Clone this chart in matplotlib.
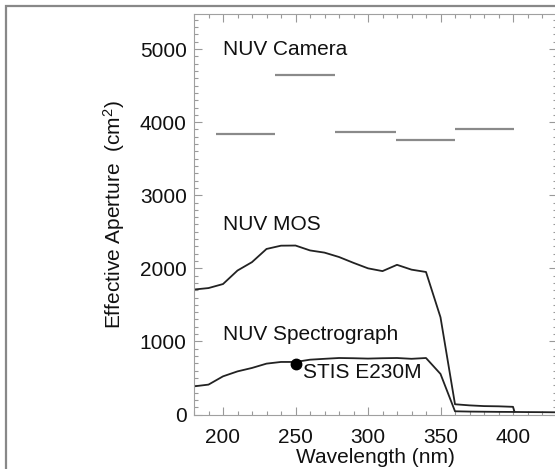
import numpy as np
import matplotlib
matplotlib.use("Agg")
import matplotlib.pyplot as plt
from matplotlib.patches import Rectangle
from matplotlib.ticker import MultipleLocator

plt.rcParams['font.family'] = ['Liberation Sans', 'DejaVu Sans']
plt.rcParams['mathtext.default'] = 'regular'

# --- effective aperture curves (nm, cm^2) ---
mos_wave = [180, 190, 200, 210, 220, 230, 240, 250, 260, 270, 280, 290, 300,
            310, 320, 330, 340, 350, 360, 370, 380, 390, 400, 401]
mos_area = [1710, 1730, 1785, 1970, 2085, 2265, 2310, 2312, 2245, 2215, 2155,
            2075, 2000, 1962, 2048, 1982, 1950, 1330, 140, 125, 115, 112, 105, 40]

spec_wave = [180, 190, 200, 210, 220, 230, 240, 250, 260, 270, 280, 290, 300,
             310, 320, 330, 340, 350, 360, 370, 380, 390, 400, 410, 420, 430, 440]
spec_area = [385, 409, 522, 590, 637, 696, 719, 719, 750, 762, 773, 770, 765,
             770, 773, 762, 773, 555, 44, 40, 38, 36, 35, 33, 32, 30, 30]

# camera filter bands: start, end, aperture
cam_start = [195, 236, 277, 319, 360]
cam_end = [236, 277, 319, 360, 401]
cam_area = [3840, 4640, 3870, 3750, 3900]

# STIS reference point
stis_wave = 250
stis_area = 690

W, H = 555, 469
fig = plt.figure(figsize=(W / 100, H / 100), dpi=100)
ax = fig.add_axes([194 / W, 1 - 414.5 / H, 362.5 / W, 400.5 / H])

ax.hlines(cam_area, cam_start, cam_end, colors='#8a8a8a', linewidth=1.6)
ax.plot(mos_wave, mos_area, color='#222222', linewidth=1.3)
ax.plot(spec_wave, spec_area, color='#222222', linewidth=1.3)
ax.plot([stis_wave], [stis_area], 'o', color='black', markersize=7.5)

fs = 15
ax.text(200, 5000, 'NUV Camera', fontsize=fs, va='center', ha='left', color='#111111')
ax.text(200, 2600, 'NUV MOS', fontsize=fs, va='center', ha='left', color='#111111')
ax.text(200, 1095, 'NUV Spectrograph', fontsize=fs, va='center', ha='left', color='#111111')
ax.text(255.5, 578, 'STIS E230M', fontsize=fs, va='center', ha='left', color='#111111')

ax.set_xlim(180, 430)
ax.set_ylim(0, 5480)
ax.xaxis.set_major_locator(MultipleLocator(50))
ax.xaxis.set_minor_locator(MultipleLocator(10))
ax.yaxis.set_major_locator(MultipleLocator(1000))
ax.yaxis.set_minor_locator(MultipleLocator(100))

ax.tick_params(which='both', direction='in', top=True, right=True,
               color='#999999', width=0.8, labelsize=fs, labelcolor='#111111')
ax.tick_params(which='major', length=6)
ax.tick_params(which='minor', length=3)
ax.tick_params(axis='x', pad=9.5)
ax.tick_params(axis='y', pad=5.3)
for sp in ax.spines.values():
    sp.set_color('#a0a0a0')
    sp.set_linewidth(0.8)

ax.set_xlabel('Wavelength (nm)', fontsize=fs, color='#111111')
ax.set_ylabel('Effective Aperture  (cm$^2$)', fontsize=fs, color='#111111')
ax.xaxis.set_label_coords(0.5, -0.084)
ax.yaxis.set_label_coords(-0.186, 0.5)

# outer grey frame
fig.add_artist(Rectangle((6 / W, -0.2), 2, 1.2 - 6 / H, transform=fig.transFigure,
                         fill=False, edgecolor='#888888', linewidth=1.6))

fig.savefig('out.png', dpi=100)
